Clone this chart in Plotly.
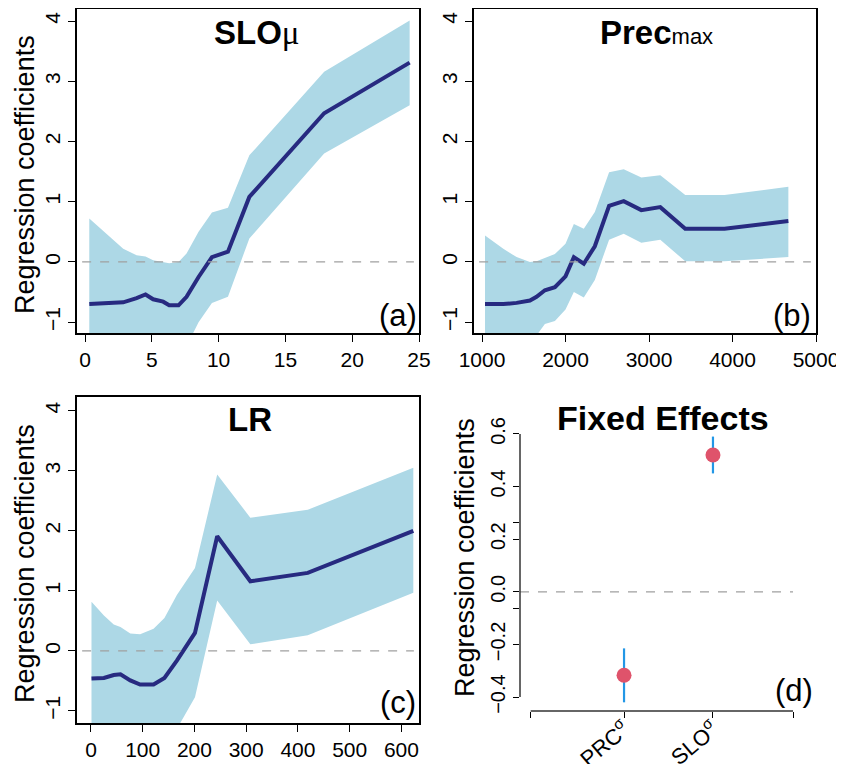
import plotly.graph_objects as go

# ---------------- data ----------------
slo_x = [0.32, 1.62, 2.86, 3.86, 4.53, 5.1, 5.85, 6.3, 7.0, 7.6, 8.5, 9.5, 10.7, 12.3, 17.9, 24.3]
slo_fit = [-0.70, -0.69, -0.67, -0.60, -0.54, -0.62, -0.66, -0.72, -0.72, -0.58, -0.25, 0.08, 0.17, 1.08, 2.47, 3.31]
slo_hi = [0.72, 0.47, 0.22, 0.11, 0.09, 0.03, 0.0, -0.02, 0.0, 0.14, 0.50, 0.82, 0.90, 1.77, 3.16, 4.01]
slo_lo = [-2.10, -1.85, -1.60, -1.45, -1.40, -1.45, -1.50, -1.50, -1.50, -1.40, -1.00, -0.68, -0.58, 0.39, 1.80, 2.60]

prec_x = [1036, 1255, 1414, 1574, 1653, 1753, 1873, 2000, 2100, 2219, 2351, 2522, 2697, 2908, 3135, 3434, 3904, 4669]
prec_fit = [-0.70, -0.70, -0.68, -0.64, -0.58, -0.47, -0.42, -0.24, 0.08, -0.03, 0.26, 0.93, 1.01, 0.86, 0.91, 0.55, 0.55, 0.68]
prec_hi = [0.44, 0.22, 0.08, 0.0, 0.01, 0.07, 0.13, 0.30, 0.63, 0.55, 0.83, 1.49, 1.54, 1.40, 1.44, 1.11, 1.11, 1.25]
prec_lo = [-1.85, -1.62, -1.45, -1.32, -1.22, -1.03, -0.98, -0.79, -0.50, -0.59, -0.30, 0.37, 0.47, 0.32, 0.37, 0.01, 0.01, 0.08]

lr_x = [1, 25, 44, 57, 76, 95, 121, 142, 166, 201, 244, 308, 419, 623]
lr_fit = [-0.46, -0.45, -0.40, -0.39, -0.49, -0.56, -0.56, -0.45, -0.16, 0.30, 1.91, 1.16, 1.30, 2.00]
lr_hi = [0.82, 0.59, 0.44, 0.40, 0.29, 0.28, 0.37, 0.55, 0.93, 1.38, 2.94, 2.22, 2.35, 3.05]
lr_lo = [-1.80, -1.65, -1.55, -1.55, -1.60, -1.65, -1.60, -1.50, -1.30, -0.77, 0.84, 0.11, 0.26, 0.97]

fe_pos = [1, 2]
fe_names = ["PRC<sup>σ</sup>", "SLO<sup>σ</sup>"]
fe_est = [-0.317, 0.52]
fe_lo = [-0.42, 0.45]
fe_hi = [-0.215, 0.59]

y_ticks_abc = [-1, 0, 1, 2, 3, 4]
y_ticks_d = [-0.4, -0.2, -0.065, 0.0, 0.2, 0.265, 0.4, 0.6]
y_text_d = ["\u22120.4", "\u22120.2", "", "0.0", "0.2", "", "0.4", "0.6"]

# ---------------- style ----------------
FONT = "Liberation Sans, Arial, sans-serif"
BAND = "#ADD8E6"
LINE = "#272A80"
W, H = 844, 764
OFF = 8  # the page body adds an 8px offset; compensate so the layout lands in place


def px_x(p):
    return (p - OFF) / W


def px_y(p):
    return 1 - (p - OFF) / H


fig = go.Figure()

panels = [
    ("x", "y", slo_x, slo_fit, slo_hi, slo_lo),
    ("x2", "y2", prec_x, prec_fit, prec_hi, prec_lo),
    ("x3", "y3", lr_x, lr_fit, lr_hi, lr_lo),
]
for xa, ya, xs, fit, hi, lo in panels:
    fig.add_trace(go.Scatter(
        x=list(xs) + list(xs)[::-1], y=list(hi) + list(lo)[::-1],
        fill="toself", fillcolor=BAND, line=dict(width=0), mode="lines",
        hoverinfo="skip", showlegend=False, xaxis=xa, yaxis=ya))
    fig.add_trace(go.Scatter(
        x=xs, y=fit, mode="lines", line=dict(color=LINE, width=4),
        showlegend=False, xaxis=xa, yaxis=ya))

fig.add_trace(go.Scatter(
    x=fe_pos, y=fe_est, mode="markers",
    marker=dict(color="#DF536B", size=15),
    error_y=dict(type="data", symmetric=False,
                 array=[h - e for h, e in zip(fe_hi, fe_est)],
                 arrayminus=[e - l for e, l in zip(fe_est, fe_lo)],
                 color="#2297E6", thickness=2.2, width=0),
    showlegend=False, xaxis="x4", yaxis="y4"))

tickfont = dict(family=FONT, size=21, color="black")
box_axis = dict(showline=True, mirror=True, linecolor="black", linewidth=1.5,
                ticks="outside", ticklen=7, tickwidth=1.3, tickcolor="black",
                showgrid=False, zeroline=False, tickfont=tickfont, automargin=False)

fig.update_layout(
    width=W, height=H, paper_bgcolor="white", plot_bgcolor="white",
    margin=dict(l=0, r=0, t=0, b=0, pad=0, autoexpand=False),
    xaxis=dict(domain=[px_x(77), px_x(419)], range=[-0.6, 25.0],
               tickvals=[0, 5, 10, 15, 20, 25], anchor="y", **box_axis),
    yaxis=dict(domain=[px_y(333), px_y(9)], range=[-1.18, 4.2],
               tickvals=y_ticks_abc, tickangle=-90, anchor="x", **box_axis),
    xaxis2=dict(domain=[px_x(474), px_x(816)], range=[904, 5000],
                tickvals=[1000, 2000, 3000, 4000, 5000], anchor="y2", **box_axis),
    yaxis2=dict(domain=[px_y(333), px_y(9)], range=[-1.18, 4.2],
                tickvals=y_ticks_abc, tickangle=-90, anchor="x2", **box_axis),
    xaxis3=dict(domain=[px_x(77), px_x(419)], range=[-27, 634],
                tickvals=[0, 100, 200, 300, 400, 500, 600], anchor="y3", **box_axis),
    yaxis3=dict(domain=[px_y(723), px_y(397)], range=[-1.2, 4.23],
                tickvals=y_ticks_abc, tickangle=-90, anchor="x3", **box_axis),
    xaxis4=dict(domain=[px_x(520), px_x(793)], range=[-0.17, 2.9],
                tickvals=[-0.05, 1, 2, 2.9], ticktext=[""] + fe_names + [""],
                tickangle=-40, ticks="outside", ticklen=6, tickwidth=1.3,
                tickcolor="black", showline=False, showgrid=False, zeroline=False,
                automargin=False, ticklabelstandoff=-10,
                tickfont=dict(family=FONT, size=22, color="black"), anchor="y4"),
    yaxis4=dict(domain=[px_y(711), px_y(425)], range=[-0.453, 0.634],
                tickvals=y_ticks_d, ticktext=y_text_d, tickangle=-90,
                ticks="outside", ticklen=6, tickwidth=1.3, tickcolor="black",
                showline=False, showgrid=False, zeroline=False, automargin=False,
                tickfont=dict(family=FONT, size=20, color="black"), anchor="x4"),
)

shapes = []
for xa, ya in [("x", "y"), ("x2", "y2"), ("x3", "y3")]:
    shapes.append(dict(type="line", xref=f"{xa} domain", yref=ya,
                       x0=0.015, x1=0.985, y0=0, y1=0, layer="above",
                       line=dict(color="#A0A0A0", width=1.3, dash="dash")))
shapes.append(dict(type="line", xref="x4 domain", yref="y4", x0=0, x1=1, y0=0, y1=0,
                   layer="below", line=dict(color="#A0A0A0", width=1.3, dash="dash")))
# axis lines of panel (d), spanning the tick range as in the original
shapes.append(dict(type="line", xref="x4 domain", yref="y4", x0=0, x1=0,
                   y0=min(y_ticks_d), y1=max(y_ticks_d), line=dict(color="#333333", width=1.5)))
shapes.append(dict(type="line", xref="x4", yref="y4 domain", x0=-0.05, x1=2.9,
                   y0=0, y1=0, line=dict(color="#333333", width=1.5)))
fig.update_layout(shapes=shapes)

ann = []


def add_text(text, x, y, size, angle=0):
    ann.append(dict(text=text, x=px_x(x), y=px_y(y), xref="paper", yref="paper",
                    showarrow=False, textangle=angle, xanchor="center", yanchor="middle",
                    font=dict(family=FONT, size=size, color="black")))


add_text("<b>SLO</b><span style='font-family:Liberation Serif'>\u03bc</span>", 257, 33, 33)
add_text("<b>Prec</b><span style='font-size:22px'>max</span>", 656, 33, 33)
add_text("<b>LR</b>", 250, 419, 33)
add_text("<b>Fixed Effects</b>", 663, 418, 34)
add_text("(a)", 398, 315, 31)
add_text("(b)", 792, 315, 31)
add_text("(c)", 398, 702, 31)
add_text("(d)", 794, 690, 31)
add_text("Regression coefficients", 25, 175, 27, angle=-90)
add_text("Regression coefficients", 25, 564, 27, angle=-90)
add_text("Regression coefficients", 465, 557, 27, angle=-90)
fig.update_layout(annotations=ann)

fig.write_html("out.html")
